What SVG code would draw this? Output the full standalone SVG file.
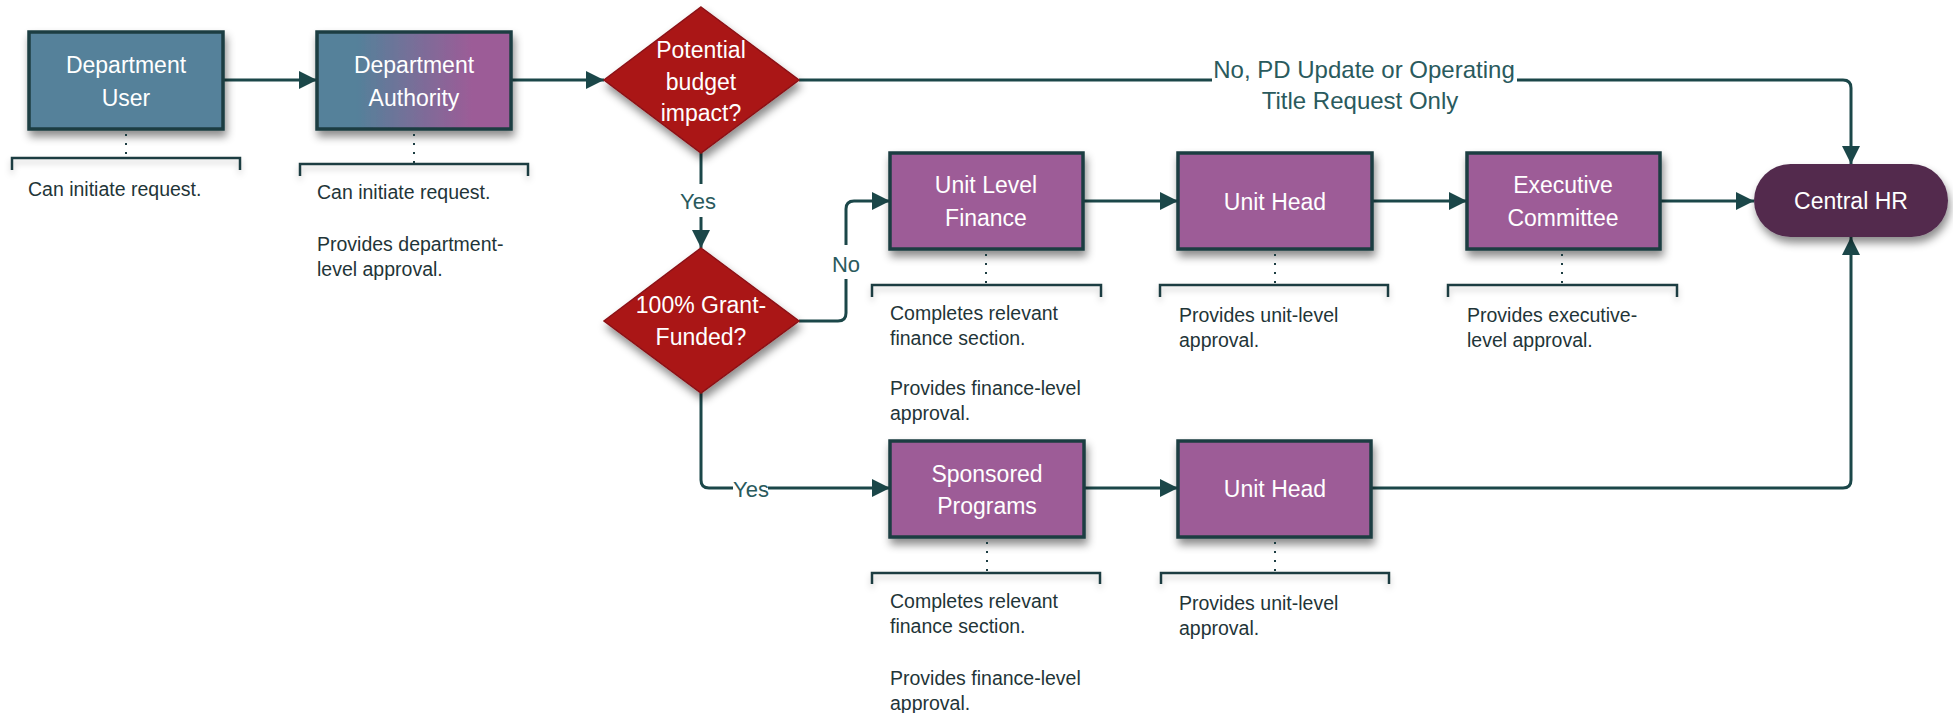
<svg xmlns="http://www.w3.org/2000/svg" width="1953" height="713" viewBox="0 0 1953 713">
<style>
.box{stroke:#1c3d42;stroke-width:3.5}
.teal{fill:#54819a}
.purple{fill:#9d5c97}
.dia{fill:#aa1517;stroke:#8c1214;stroke-width:1.5}
.bt{font-family:"Liberation Sans",Arial,sans-serif;font-size:23px;fill:#ffffff;text-anchor:middle}
.ann{font-family:"Liberation Sans",Arial,sans-serif;font-size:19.5px;fill:#1f3538}
.lbl{font-family:"Liberation Sans",Arial,sans-serif;font-size:22px;fill:#2a5a5d;text-anchor:middle}
.big{font-size:24px}
.con{fill:none;stroke:#1b4749;stroke-width:3}
.arr{fill:none;stroke:#1b4749;stroke-width:3;marker-end:url(#ah)}
.br{fill:none;stroke:#1c3d42;stroke-width:2.5}
.dot{fill:none;stroke:#1c3d42;stroke-width:2;stroke-dasharray:2 7}
</style>
<defs>
<marker id="ah" markerUnits="userSpaceOnUse" markerWidth="18" markerHeight="18" viewBox="0 0 16 16" refX="16" refY="8" orient="auto">
<path d="M0,0 L16,8 L0,16 Z" fill="#1b4749"/>
</marker>
<linearGradient id="grad" x1="0" y1="0" x2="1" y2="0">
<stop offset="0.2" stop-color="#54819a"/>
<stop offset="0.8" stop-color="#9c5c97"/>
</linearGradient>
<filter id="sh" x="-20%" y="-20%" width="140%" height="160%">
<feDropShadow dx="2" dy="6" stdDeviation="4" flood-color="#000" flood-opacity="0.45"/>
</filter>
<filter id="shs" x="-10%" y="-100%" width="120%" height="400%">
<feDropShadow dx="0" dy="4" stdDeviation="3" flood-color="#000" flood-opacity="0.2"/>
</filter>
</defs>
<rect width="1953" height="713" fill="#ffffff"/>

<g id="connectors">
<path class="arr" d="M223,80 H317"/>
<path class="arr" d="M511,80 H604"/>
<path class="con" d="M799,80 H1212"/>
<path class="arr" d="M1517,80 H1843 Q1851,80 1851,88 V164"/>
<path class="con" d="M701,153 V184"/>
<path class="arr" d="M701,217 V248"/>
<path class="con" d="M799,321 H838 Q846,321 846,313 V279"/>
<path class="arr" d="M846,245 V209 Q846,201 854,201 H890"/>
<path class="con" d="M701,393 V480 Q701,488 709,488 H733"/>
<path class="arr" d="M768,488 H890"/>
<path class="arr" d="M1083,201 H1178"/>
<path class="arr" d="M1372,201 H1467"/>
<path class="arr" d="M1660,201 H1754"/>
<path class="arr" d="M1084,488 H1178"/>
<path class="arr" d="M1371,488 H1843 Q1851,488 1851,480 V237"/>
<text class="lbl big" x="1364" y="78">No, PD Update or Operating</text>
<text class="lbl big" x="1360" y="109">Title Request Only</text>
<text class="lbl" x="698" y="209">Yes</text>
<text class="lbl" x="846" y="272">No</text>
<text class="lbl" x="751" y="497">Yes</text>
</g>

<g id="dept-user">
<rect class="box teal" x="29" y="32" width="194" height="97" filter="url(#sh)"/>
<text class="bt" x="126" y="73">Department</text>
<text class="bt" x="126" y="106">User</text>
<path class="dot" d="M126,134 V158"/>
<path class="br" d="M12,170 V158 H240 V170" filter="url(#shs)"/>
<text class="ann" x="28" y="196">Can initiate request.</text>
</g>

<g id="dept-authority">
<rect class="box" fill="url(#grad)" x="317" y="32" width="194" height="97" filter="url(#sh)"/>
<text class="bt" x="414" y="73">Department</text>
<text class="bt" x="414" y="106">Authority</text>
<path class="dot" d="M414,134 V164"/>
<path class="br" d="M300,176 V164 H528 V176" filter="url(#shs)"/>
<text class="ann" x="317" y="199">Can initiate request.</text>
<text class="ann" x="317" y="251">Provides department-</text>
<text class="ann" x="317" y="276">level approval.</text>
</g>

<g id="budget-impact">
<path class="dia" d="M701,7 L799,80 L701,153 L604,80 Z" filter="url(#sh)"/>
<text class="bt" x="701" y="58">Potential</text>
<text class="bt" x="701" y="90">budget</text>
<text class="bt" x="701" y="121">impact?</text>
</g>

<g id="grant-funded">
<path class="dia" d="M701,248 L799,321 L701,393 L604,321 Z" filter="url(#sh)"/>
<text class="bt" x="701" y="313">100% Grant-</text>
<text class="bt" x="701" y="345">Funded?</text>
</g>

<g id="unit-level-finance">
<rect class="box purple" x="890" y="153" width="193" height="96" filter="url(#sh)"/>
<text class="bt" x="986" y="193">Unit Level</text>
<text class="bt" x="986" y="226">Finance</text>
<path class="dot" d="M986,254 V285"/>
<path class="br" d="M872,297 V285 H1101 V297" filter="url(#shs)"/>
<text class="ann" x="890" y="320">Completes relevant</text>
<text class="ann" x="890" y="345">finance section.</text>
<text class="ann" x="890" y="395">Provides finance-level</text>
<text class="ann" x="890" y="420">approval.</text>
</g>

<g id="unit-head-1">
<rect class="box purple" x="1178" y="153" width="194" height="96" filter="url(#sh)"/>
<text class="bt" x="1275" y="210">Unit Head</text>
<path class="dot" d="M1275,254 V285"/>
<path class="br" d="M1160,297 V285 H1388 V297" filter="url(#shs)"/>
<text class="ann" x="1179" y="322">Provides unit-level</text>
<text class="ann" x="1179" y="347">approval.</text>
</g>

<g id="executive-committee">
<rect class="box purple" x="1467" y="153" width="193" height="96" filter="url(#sh)"/>
<text class="bt" x="1563" y="193">Executive</text>
<text class="bt" x="1563" y="226">Committee</text>
<path class="dot" d="M1562,254 V285"/>
<path class="br" d="M1448,297 V285 H1677 V297" filter="url(#shs)"/>
<text class="ann" x="1467" y="322">Provides executive-</text>
<text class="ann" x="1467" y="347">level approval.</text>
</g>

<g id="central-hr">
<rect x="1754" y="164" width="194" height="73" rx="36.5" ry="36.5" fill="#522c4e" filter="url(#sh)"/>
<text class="bt" x="1851" y="209">Central HR</text>
</g>

<g id="sponsored-programs">
<rect class="box purple" x="890" y="441" width="194" height="96" filter="url(#sh)"/>
<text class="bt" x="987" y="482">Sponsored</text>
<text class="bt" x="987" y="514">Programs</text>
<path class="dot" d="M987,542 V573"/>
<path class="br" d="M872,584 V573 H1100 V584" filter="url(#shs)"/>
<text class="ann" x="890" y="608">Completes relevant</text>
<text class="ann" x="890" y="633">finance section.</text>
<text class="ann" x="890" y="685">Provides finance-level</text>
<text class="ann" x="890" y="710">approval.</text>
</g>

<g id="unit-head-2">
<rect class="box purple" x="1178" y="441" width="193" height="96" filter="url(#sh)"/>
<text class="bt" x="1275" y="497">Unit Head</text>
<path class="dot" d="M1275,542 V573"/>
<path class="br" d="M1161,584 V573 H1389 V584" filter="url(#shs)"/>
<text class="ann" x="1179" y="610">Provides unit-level</text>
<text class="ann" x="1179" y="635">approval.</text>
</g>
</svg>
